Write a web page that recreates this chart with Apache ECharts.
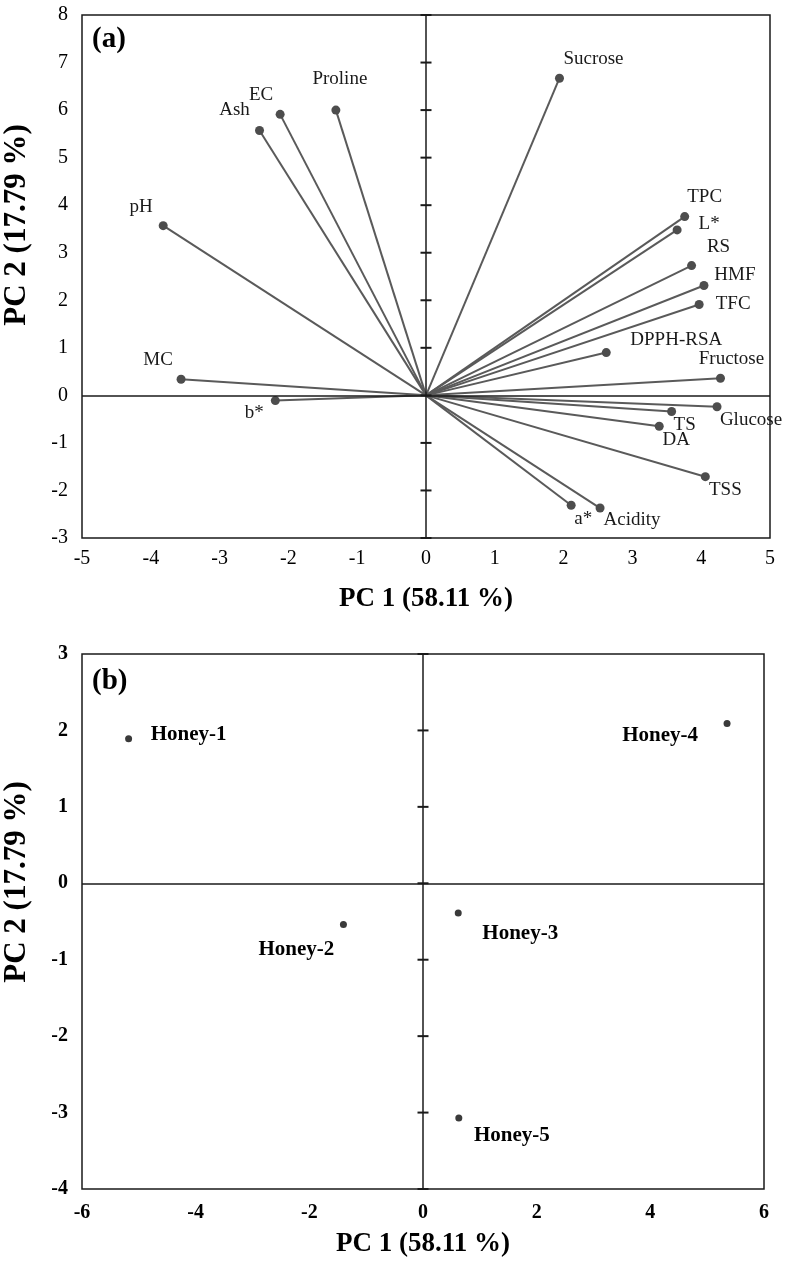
<!DOCTYPE html>
<html>
<head>
<meta charset="utf-8">
<title>PCA biplot</title>
<script src="https://cdn.jsdelivr.net/npm/echarts@6/dist/echarts.min.js"></script>
<style>
  html, body { margin: 0; padding: 0; background: #fff; }
  #chart { width: 786px; height: 1265px; }
</style>
</head>
<body>
<div id="chart"></div>
<script>
// (a) variable loadings
var varNames = ["pH", "Ash", "EC", "Proline", "Sucrose", "TPC", "L*", "RS", "HMF", "TFC",
  "DPPH-RSA", "Fructose", "Glucose", "TS", "DA", "TSS", "a*", "Acidity", "MC", "b*"];
var pc1Load = [-3.82, -2.42, -2.12, -1.31, 1.94, 3.76, 3.65, 3.86, 4.04, 3.97,
  2.62, 4.28, 4.23, 3.57, 3.39, 4.06, 2.11, 2.53, -3.56, -2.19];
var pc2Load = [3.57, 5.57, 5.91, 6.00, 6.67, 3.76, 3.48, 2.73, 2.31, 1.91,
  0.90, 0.36, -0.24, -0.34, -0.65, -1.71, -2.31, -2.37, 0.34, -0.11];

// (b) sample scores
var honeyNames = ["Honey-1", "Honey-2", "Honey-3", "Honey-4", "Honey-5"];
var pc1Score = [-5.18, -1.40, 0.62, 5.35, 0.63];
var pc2Score = [1.89, -0.54, -0.39, 2.09, -3.07];

// ticks
var xTicksA = [-5, -4, -3, -2, -1, 0, 1, 2, 3, 4, 5];
var yTicksA = [-3, -2, -1, 0, 1, 2, 3, 4, 5, 6, 7, 8];
var xTicksB = [-6, -4, -2, 0, 2, 4, 6];
var yTicksB = [-4, -3, -2, -1, 0, 1, 2, 3];

var titleX = "PC 1 (58.11 %)";
var titleY = "PC 2 (17.79 %)";

var serif = "Liberation Serif";
var ink = "#1a1a1a";

// label offsets (px) from each dot to its label centre
var offA = {
  "pH": [-22, -19], "Ash": [-25, -21], "EC": [-19, -19], "Proline": [4, -31],
  "Sucrose": [34, -19], "TPC": [20, -20], "L*": [32, -6], "RS": [27, -19],
  "HMF": [31, -11], "TFC": [34, -1], "DPPH-RSA": [70, -13], "Fructose": [11, -19],
  "Glucose": [34, 13], "TS": [13, 13], "DA": [17, 14], "TSS": [20, 13],
  "a*": [12, 14], "Acidity": [32, 12], "MC": [-23, -19], "b*": [-21, 12]
};
var offB = {
  "Honey-1": [60, -4], "Honey-2": [-47, 25], "Honey-3": [62, 20],
  "Honey-4": [-67, 12], "Honey-5": [53, 18]
};

function makeX(idx, ticks, bold, gap, margin) {
  return {
    gridIndex: idx, type: "value",
    min: ticks[0], max: ticks[ticks.length - 1], interval: ticks[1] - ticks[0],
    axisLine: { show: false, onZero: false },
    axisTick: { show: false },
    splitLine: { show: false },
    axisLabel: { margin: margin, fontFamily: serif, fontSize: 20, fontWeight: bold ? "bold" : "normal", color: "#000" },
    name: titleX, nameLocation: "middle", nameGap: gap,
    nameTextStyle: { fontFamily: serif, fontSize: 27, fontWeight: "bold", color: "#000" }
  };
}
function makeY(idx, ticks, bold) {
  return {
    gridIndex: idx, type: "value",
    min: ticks[0], max: ticks[ticks.length - 1], interval: ticks[1] - ticks[0],
    axisLine: { show: false, onZero: false },
    axisTick: { show: false },
    splitLine: { show: false },
    axisLabel: { margin: 14, fontFamily: serif, fontSize: 20, fontWeight: bold ? "bold" : "normal", color: "#000" }
  };
}

var series = [];

// loading vectors
varNames.forEach(function (n, i) {
  series.push({
    type: "line", xAxisIndex: 0, yAxisIndex: 0, silent: true, z: 2,
    symbol: "none",
    lineStyle: { color: "#5a5a5a", width: 2 },
    data: [[0, 0], [pc1Load[i], pc2Load[i]]]
  });
});

// zero lines + cross ticks for both panels
[0, 1].forEach(function (g) {
  var yt = g === 0 ? yTicksA : yTicksB;
  series.push({
    type: "scatter", xAxisIndex: g, yAxisIndex: g, silent: true, z: 3,
    symbol: "rect", symbolSize: [11, 2],
    itemStyle: { color: ink, opacity: 1 },
    data: yt.map(function (v) { return [0, v]; }),
    markLine: {
      silent: true, symbol: "none", label: { show: false },
      lineStyle: { color: ink, width: 1.5, type: "solid", opacity: 1 },
      data: [{ xAxis: 0 }, { yAxis: 0 }]
    }
  });
});

// loading end points
series.push({
  type: "scatter", xAxisIndex: 0, yAxisIndex: 0, z: 4,
  symbolSize: 9,
  itemStyle: { color: "#4d4d4d", opacity: 1 },
  label: {
    show: true, position: "inside", formatter: "{b}",
    fontFamily: serif, fontSize: 19, color: ink
  },
  data: varNames.map(function (n, i) {
    return { name: n, value: [pc1Load[i], pc2Load[i]], label: { offset: offA[n] } };
  })
});

// sample scores
series.push({
  type: "scatter", xAxisIndex: 1, yAxisIndex: 1, z: 4,
  symbolSize: 7,
  itemStyle: { color: "#3a3a3a", opacity: 1 },
  label: {
    show: true, position: "inside", formatter: "{b}",
    fontFamily: serif, fontSize: 21, fontWeight: "bold", color: "#000"
  },
  data: honeyNames.map(function (n, i) {
    return { name: n, value: [pc1Score[i], pc2Score[i]], label: { offset: offB[n] } };
  })
});

var option = {
  animation: false,
  backgroundColor: "#fff",
  grid: [
    { left: 82, top: 15, width: 688, height: 523, show: true, borderColor: ink, borderWidth: 1.5 },
    { left: 82, top: 654, width: 682, height: 535, show: true, borderColor: ink, borderWidth: 1.5 }
  ],
  xAxis: [makeX(0, xTicksA, false, 48, 11), makeX(1, xTicksB, true, 42, 14)],
  yAxis: [makeY(0, yTicksA, false), makeY(1, yTicksB, true)],
  graphic: [
    { type: "text", x: 17, y: 225, rotation: Math.PI / 2,
      style: { text: titleY, font: "bold 31px 'Liberation Serif'", fill: "#000", align: "center", verticalAlign: "middle" } },
    { type: "text", x: 17, y: 882, rotation: Math.PI / 2,
      style: { text: titleY, font: "bold 31px 'Liberation Serif'", fill: "#000", align: "center", verticalAlign: "middle" } },
    { type: "text", x: 92, y: 40,
      style: { text: "(a)", font: "bold 29px 'Liberation Serif'", fill: "#000", align: "left", verticalAlign: "middle" } },
    { type: "text", x: 92, y: 682,
      style: { text: "(b)", font: "bold 29px 'Liberation Serif'", fill: "#000", align: "left", verticalAlign: "middle" } }
  ],
  series: series
};

var myChart = echarts.init(document.getElementById("chart"));
myChart.setOption(option);
window.addEventListener("resize", function () {
  myChart.resize();
});
</script>
</body>
</html>
